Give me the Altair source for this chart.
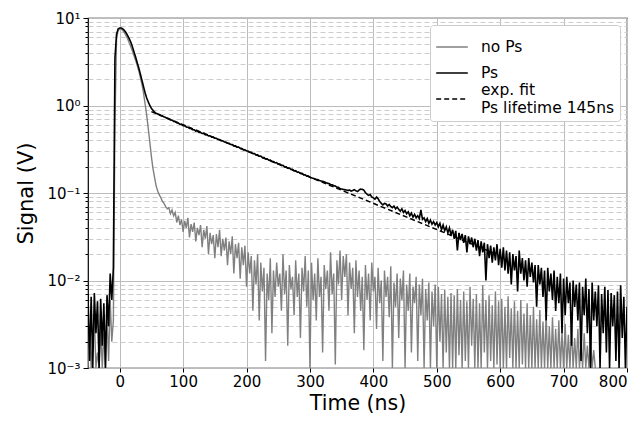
import altair as alt
import pandas as pd

# sampling grid of the oscilloscope traces (ns): one value every 2.5 ns from -50 ns
T0 = -50
DT = 2.5

# "Ps" trace (V); each row holds the 4 samples of one 10 ns interval
ps_signal = [
    0.007, 0.0012, 0.0065, 0.0005,      # -50
    0.0072, 0.0025, 0.0058, 0.0004,     # -40
    0.0062, 0.0018, 0.0055, 0.0007,     # -30
    0.0068, 0.003, 0.012, 0.006,        # -20
    0.014, 3.5, 6.5, 7.5,               # -10
    7.7, 7.7, 7.5, 7.2,                 # 0
    6.8, 6.3, 5.8, 5.3,                 # 10
    4.7, 4.1, 3.6, 3.1,                 # 20
    2.7, 2.3, 1.95, 1.65,               # 30
    1.4, 1.22, 1.1, 1.0,                # 40
    0.93, 0.88, 0.84, 0.815,            # 50
    0.80, 0.79, 0.768, 0.760,           # 60
    0.740, 0.730, 0.712, 0.704,         # 70
    0.685, 0.680, 0.658, 0.654,         # 80
    0.634, 0.629, 0.611, 0.606,         # 90
    0.588, 0.586, 0.567, 0.565,         # 100
    0.547, 0.546, 0.528, 0.528,         # 110
    0.510, 0.511, 0.493, 0.493,         # 120
    0.478, 0.479, 0.462, 0.464,         # 130
    0.448, 0.450, 0.434, 0.435,         # 140
    0.422, 0.421, 0.409, 0.407,         # 150
    0.395, 0.395, 0.383, 0.381,         # 160
    0.370, 0.369, 0.358, 0.357,         # 170
    0.346, 0.346, 0.334, 0.335,         # 180
    0.324, 0.323, 0.313, 0.312,         # 190
    0.302, 0.302, 0.292, 0.292,         # 200
    0.282, 0.282, 0.273, 0.273,         # 210
    0.263, 0.264, 0.254, 0.254,         # 220
    0.245, 0.246, 0.237, 0.238,         # 230
    0.229, 0.229, 0.221, 0.222,         # 240
    0.214, 0.214, 0.206, 0.207,         # 250
    0.199, 0.199, 0.192, 0.193,         # 260
    0.186, 0.186, 0.179, 0.180,         # 270
    0.173, 0.173, 0.167, 0.168,         # 280
    0.161, 0.161, 0.156, 0.156,         # 290
    0.151, 0.149, 0.147, 0.145,         # 300
    0.143, 0.142, 0.139, 0.137,         # 310
    0.136, 0.134, 0.132, 0.129,         # 320
    0.128, 0.125, 0.124, 0.121,         # 330
    0.120, 0.117, 0.116, 0.112,         # 340
    0.111, 0.110, 0.109, 0.108,         # 350
    0.107, 0.108, 0.105, 0.107,         # 360
    0.109, 0.106, 0.104, 0.108,         # 370
    0.111, 0.110, 0.108, 0.101,         # 380
    0.097, 0.094, 0.096, 0.090,         # 390
    0.088, 0.085, 0.090, 0.086,         # 400
    0.080, 0.076, 0.073, 0.076,         # 410
    0.075, 0.071, 0.074, 0.070,         # 420
    0.068, 0.071, 0.066, 0.069,         # 430
    0.065, 0.062, 0.066, 0.060,         # 440
    0.063, 0.058, 0.061, 0.055,         # 450
    0.059, 0.053, 0.057, 0.052,         # 460
    0.055, 0.051, 0.064, 0.050,         # 470
    0.052, 0.047, 0.051, 0.045,         # 480
    0.049, 0.044, 0.047, 0.043,         # 490
    0.046, 0.041, 0.045, 0.038,         # 500
    0.043, 0.037, 0.041, 0.035,         # 510
    0.040, 0.033, 0.038, 0.030,         # 520
    0.037, 0.022, 0.035, 0.029,         # 530
    0.034, 0.027, 0.033, 0.021,         # 540
    0.032, 0.026, 0.031, 0.024,         # 550
    0.030, 0.022, 0.029, 0.019,         # 560
    0.028, 0.021, 0.027, 0.010,         # 570
    0.026, 0.018, 0.025, 0.016,         # 580
    0.024, 0.017, 0.026, 0.015,         # 590
    0.023, 0.014, 0.024, 0.013,         # 600
    0.022, 0.012, 0.021, 0.009,         # 610
    0.020, 0.013, 0.019, 0.0075,        # 620
    0.022, 0.012, 0.018, 0.010,         # 630
    0.017, 0.0085, 0.018, 0.011,        # 640
    0.016, 0.0095, 0.015, 0.005,        # 650
    0.015, 0.009, 0.014, 0.0065,        # 660
    0.013, 0.0035, 0.014, 0.0075,       # 670
    0.012, 0.006, 0.013, 0.0045,        # 680
    0.011, 0.0055, 0.012, 0.0025,       # 690
    0.0105, 0.004, 0.011, 0.0055,       # 700
    0.0095, 0.0018, 0.010, 0.005,       # 710
    0.009, 0.0035, 0.0095, 0.0012,      # 720
    0.0085, 0.004, 0.0105, 0.0025,      # 730
    0.008, 0.0008, 0.0095, 0.0035,      # 740
    0.0075, 0.003, 0.0088, 0.0006,      # 750
    0.007, 0.0025, 0.0085, 0.0015,      # 760
    0.0078, 0.0007, 0.0072, 0.003,      # 770
    0.0068, 0.0012, 0.0075, 0.0005,     # 780
    0.0088, 0.0022, 0.0065, 0.0009,     # 790
    0.005,                              # 800
]

# "no Ps" trace (V); each row holds the 4 samples of one 10 ns interval
nops_signal = [
    0.0008, 0.003, 0.0005, 0.002,       # -50
    0.004, 0.0006, 0.0015, 0.0005,      # -40
    0.003, 0.0009, 0.0025, 0.0005,      # -30
    0.004, 0.0012, 0.006, 0.002,        # -20
    0.0035, 0.6, 5.8, 7.2,              # -10
    7.5, 7.5, 7.2, 6.8,                 # 0
    6.3, 5.8, 5.2, 4.7,                 # 10
    4.2, 3.7, 3.3, 2.9,                 # 20
    2.5, 2.1, 1.75, 1.4,                # 30
    1.05, 0.78, 0.55, 0.38,             # 40
    0.26, 0.19, 0.15, 0.12,             # 50
    0.105, 0.095, 0.088, 0.08,          # 60
    0.076, 0.07, 0.066, 0.068,          # 70
    0.058, 0.064, 0.055, 0.06,          # 80
    0.046, 0.055, 0.043, 0.05,          # 90
    0.036, 0.048, 0.04, 0.052,          # 100
    0.031, 0.044, 0.036, 0.046,         # 110
    0.028, 0.04, 0.033, 0.043,          # 120
    0.024, 0.038, 0.03, 0.042,          # 130
    0.02, 0.035, 0.026, 0.033,          # 140
    0.018, 0.034, 0.024, 0.038,         # 150
    0.019, 0.03, 0.022, 0.031,          # 160
    0.015, 0.028, 0.02, 0.032,          # 170
    0.012, 0.026, 0.018, 0.027,         # 180
    0.0105, 0.024, 0.015, 0.025,        # 190
    0.0085, 0.021, 0.012, 0.019,        # 200
    0.0045, 0.017, 0.009, 0.02,         # 210
    0.0035, 0.016, 0.0075, 0.014,       # 220
    0.0012, 0.012, 0.006, 0.018,        # 230
    0.0025, 0.013, 0.0065, 0.016,       # 240
    0.0085, 0.012, 0.0045, 0.02,        # 250
    0.007, 0.013, 0.0018, 0.015,        # 260
    0.008, 0.011, 0.004, 0.017,         # 270
    0.0065, 0.012, 0.0022, 0.014,       # 280
    0.0075, 0.019, 0.005, 0.013,        # 290
    0.0009, 0.016, 0.006, 0.012,        # 300
    0.0035, 0.018, 0.0065, 0.011,       # 310
    0.0015, 0.015, 0.008, 0.013,        # 320
    0.0045, 0.021, 0.007, 0.012,        # 330
    0.0011, 0.017, 0.009, 0.022,        # 340
    0.006, 0.019, 0.011, 0.02,          # 350
    0.004, 0.016, 0.008, 0.014,         # 360
    0.0025, 0.017, 0.0065, 0.013,       # 370
    0.0045, 0.011, 0.0016, 0.015,       # 380
    0.006, 0.012, 0.0035, 0.016,        # 390
    0.0075, 0.011, 0.0028, 0.014,       # 400
    0.0055, 0.01, 0.0012, 0.013,        # 410
    0.0065, 0.011, 0.0038, 0.0145,      # 420
    0.001, 0.0095, 0.005, 0.012,        # 430
    0.0022, 0.0105, 0.006, 0.013,       # 440
    0.0008, 0.009, 0.0045, 0.012,       # 450
    0.0015, 0.0085, 0.0055, 0.011,      # 460
    0.0012, 0.009, 0.004, 0.0105,       # 470
    0.0009, 0.008, 0.0035, 0.0095,      # 480
    0.0006, 0.0075, 0.003, 0.009,       # 490
    0.0005, 0.0085, 0.002, 0.007,       # 500
    0.0005, 0.0078, 0.0015, 0.0065,     # 510
    0.0004, 0.0072, 0.001, 0.0068,      # 520
    0.0004, 0.008, 0.0014, 0.006,       # 530
    0.0004, 0.0075, 0.0012, 0.0058,     # 540
    0.0004, 0.0085, 0.0018, 0.0062,     # 550
    0.0004, 0.007, 0.001, 0.0055,       # 560
    0.0004, 0.0088, 0.0015, 0.006,      # 570
    0.0004, 0.0068, 0.0012, 0.0052,     # 580
    0.0004, 0.0075, 0.0011, 0.0058,     # 590
    0.0004, 0.0062, 0.0009, 0.005,      # 600
    0.0004, 0.0066, 0.0013, 0.0048,     # 610
    0.0004, 0.0058, 0.0008, 0.0045,     # 620
    0.0004, 0.006, 0.0011, 0.0042,      # 630
    0.0004, 0.0055, 0.0009, 0.004,      # 640
    0.0004, 0.005, 0.0008, 0.0036,      # 650
    0.0004, 0.0046, 0.0007, 0.0034,     # 660
    0.0004, 0.0042, 0.0006, 0.003,      # 670
    0.0004, 0.0038, 0.0006, 0.0028,     # 680
    0.0004, 0.0035, 0.0005, 0.0026,     # 690
    0.0004, 0.0032, 0.0005, 0.0024,     # 700
    0.0004, 0.003, 0.0005, 0.0022,      # 710
    0.0004, 0.0028, 0.0005, 0.002,      # 720
    0.0004, 0.0025, 0.0005, 0.0018,     # 730
    0.0004, 0.0022, 0.0005, 0.0016,     # 740
    0.0004,                             # 750
]

# exponential fit (a straight line on the log axis), its two end points
fit_time = [50, 600]
fit_signal = [0.85, 0.0192]

series_names = ["no Ps", "Ps", "fit"]
series_colors = ["#808080", "#000000", "#000000"]
series_dash = [[1, 0], [1, 0], [5, 3]]

x_ticks = [0, 100, 200, 300, 400, 500, 600, 700, 800]
y_ticks = [m * 10.0 ** e for e in range(-3, 1) for m in range(1, 10)] + [10.0]

rows = []
for i, v in enumerate(nops_signal):
    rows.append({"time": T0 + DT * i, "signal": v, "series": "no Ps"})
for i, v in enumerate(ps_signal):
    rows.append({"time": T0 + DT * i, "signal": v, "series": "Ps"})
for t, v in zip(fit_time, fit_signal):
    rows.append({"time": t, "signal": v, "series": "fit"})
df = pd.DataFrame(rows)

E = "round(log(datum.value)/LN10)"
DEC = f"abs(log(datum.value)/LN10 - {E}) < 0.01"
y_label_expr = (
    f"{DEC} ? ({E} == 1 ? '10¹' : {E} == 0 ? '10⁰' : {E} == -1 ? '10⁻¹' : "
    f"{E} == -2 ? '10⁻²' : '10⁻³') : ''"
)

legend = alt.Legend(
    title=None,
    orient="top-right",
    offset=7,
    padding=5,
    fillColor="white",
    strokeColor="#cccccc",
    cornerRadius=3,
    symbolType="stroke",
    symbolSize=1000,
    symbolStrokeWidth=1.6,
    labelFontSize=15.5,
    labelColor="black",
    labelOffset=12,
    rowPadding=0,
    labelLimit=300,
    labelBaseline={"expr": "datum.label == 'fit' ? 'line-bottom' : 'middle'"},
    labelExpr="datum.label == 'fit' ? ['exp. fit', 'Ps lifetime 145ns'] : datum.label",
)

x_enc = alt.X(
    "time:Q",
    scale=alt.Scale(domain=[-50, 800], nice=False, zero=False),
    axis=alt.Axis(
        title="Time (ns)",
        values=x_ticks,
        titleFontSize=20.5,
        titleFontWeight="normal",
        labelFontSize=15,
        grid=True,
        gridColor="#bcbcbc",
        tickColor="black",
        tickSize=4,
        labelColor="black",
        titleColor="black",
        domain=False,
        titlePadding=4,
        labelPadding=2,
    ),
)
y_enc = alt.Y(
    "signal:Q",
    scale=alt.Scale(type="log", domain=[0.001, 10], nice=False, clamp=True),
    axis=alt.Axis(
        title="Signal (V)",
        values=y_ticks,
        labelExpr=y_label_expr,
        titleFontSize=21,
        titleFontWeight="normal",
        labelFontSize=15,
        labelColor="black",
        titleColor="black",
        domain=False,
        grid=True,
        gridDash={"condition": {"test": DEC, "value": []}, "value": [5, 3]},
        gridColor={"condition": {"test": DEC, "value": "#bcbcbc"}, "value": "#cccccc"},
        tickSize={"condition": {"test": DEC, "value": 5}, "value": 3},
        tickColor="black",
        labelOverlap=False,
        labelPadding=3,
        titlePadding=10,
    ),
)
color_enc = alt.Color(
    "series:N",
    scale=alt.Scale(domain=series_names, range=series_colors),
    legend=legend,
)
dash_enc = alt.StrokeDash(
    "series:N",
    scale=alt.Scale(domain=series_names, range=series_dash),
    legend=legend,
)

base = alt.Chart(df).encode(x=x_enc, y=y_enc, color=color_enc, strokeDash=dash_enc)

gray = base.mark_line(clip=True, strokeWidth=1.4).transform_filter("datum.series == 'no Ps'")
black = base.mark_line(clip=True, strokeWidth=1.6).transform_filter("datum.series == 'Ps'")
fit = base.mark_line(clip=True, strokeWidth=1.5).transform_filter("datum.series == 'fit'")

chart = (
    alt.layer(gray, black, fit)
    .properties(
        width=539,
        height=350,
        autosize=alt.AutoSizeParams(type="none"),
        padding={"left": 80, "top": 10, "right": 9, "bottom": 46},
    )
    .configure(font="DejaVu Sans")
    .configure_view(stroke="black", strokeWidth=1.2)
)

chart.save("out.html", embed_options={"renderer": "svg", "actions": False})
